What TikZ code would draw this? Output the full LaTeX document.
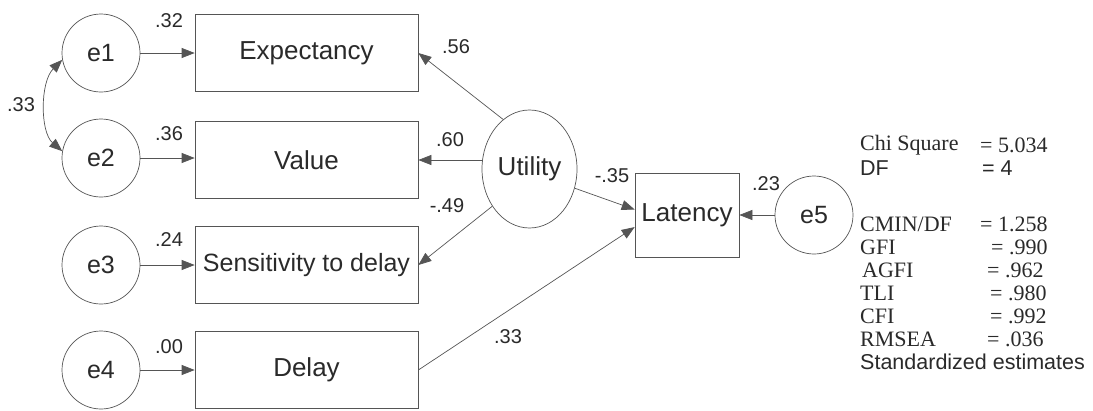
\documentclass[tikz,border=0pt]{standalone}
\usepackage{fontspec}
\setmainfont{Liberation Sans}
\newfontfamily\serifstat{Liberation Serif}
\usetikzlibrary{arrows.meta,shapes.geometric}
\definecolor{ink}{HTML}{2A2A2A}
\definecolor{edge}{HTML}{555555}
\begin{document}
\begin{tikzpicture}[x=1pt,y=-1pt,
  every node/.style={text=ink},
  errc/.style={circle,draw=edge,line width=0.7pt,minimum size=78pt,inner sep=0pt,font=\fontsize{25}{28}\selectfont},
  obsbox/.style={rectangle,draw=edge,line width=0.7pt,minimum width=223pt,minimum height=77pt,inner sep=0pt,font=\fontsize{26}{30}\selectfont},
  latv/.style={ellipse,draw=edge,line width=0.7pt,minimum width=95pt,minimum height=118pt,inner sep=0pt,font=\fontsize{26}{30}\selectfont},
  coef/.style={inner sep=0pt,font=\fontsize{20}{22}\selectfont},
  path/.style={draw=edge,line width=0.7pt,-{Triangle[length=13pt,width=10pt]}},
  dpath/.style={draw=edge,line width=0.7pt,{Triangle[length=13pt,width=10pt]}-{Triangle[length=13pt,width=10pt]}},
  statl/.style={anchor=west,inner sep=0pt,font=\serifstat\fontsize{22}{24}\selectfont},
  stats/.style={anchor=west,inner sep=0pt,font=\fontsize{21.5}{24}\selectfont}]
\useasboundingbox[fill=white] (0,0) rectangle (1093,410);

% error circles
\node[errc] (e1) at (101,53) {e1};
\node[errc] (e2) at (101,158) {e2};
\node[errc] (e3) at (101,265) {e3};
\node[errc] (e4) at (101,370) {e4};
\node[errc] (e5) at (814,215) {e5};

% observed boxes
\node[obsbox] (exp) at (306.5,53) {Expectancy};
\node[obsbox] (val) at (306.5,160) {Value};
\node[obsbox,font=\fontsize{25}{30}\selectfont] (sen) at (306.5,265) {Sensitivity to delay};
\node[obsbox] (del) at (306.5,370) {Delay};
\node[obsbox,minimum width=104pt,minimum height=84pt] (lat) at (687,215) {Latency};

% latent
\node[latv] (u) at (529.5,169) {Utility};

% paths
\draw[path] (e1) -- (exp);
\draw[path] (e2) -- (e2 -| val.west);
\draw[path] (e3) -- (sen);
\draw[path] (e4) -- (del);
\draw[path] (u.118) -- (exp.east);
\draw[path] (val.east -| u.west) -- (val.east);
\draw[path] (u.225) -- (sen.east);
\draw[path] (u.-23) -- (lat.174);
\draw[path] (del.east) -- (lat.193);
\draw[path] (e5) -- (lat);
\draw[dpath] (e1.190) .. controls (40,82) and (40,132) .. (e2.170);

% coefficients
\node[coef] (c32) at (169,21) {.32};
\node[coef] (c36) at (169,134) {.36};
\node[coef] (c24) at (169,240) {.24};
\node[coef] (c00) at (169,347) {.00};
\node[coef] (c33a) at (21,105) {.33};
\node[coef] (c56) at (456,47) {.56};
\node[coef] (c60) at (450,140) {.60};
\node[coef] (c49) at (447,206) {-.49};
\node[coef] (c35) at (612,176) {-.35};
\node[coef] (c33b) at (508,337) {.33};
\node[coef] (c23) at (766,184) {.23};

% fit statistics
\node[statl] (s1) at (860,145) {Chi Square};
\node[statl] (v1) at (980,145) {= 5.034};
\node[stats] (s2) at (860,168) {DF};
\node[stats] (v2) at (982,168) {= 4};
\node[statl] (s3) at (860,224) {CMIN/DF};
\node[statl] (v3) at (980,224) {= 1.258};
\node[statl] (s4) at (860,247) {GFI};
\node[statl] (v4) at (991,247) {= .990};
\node[statl] (s5) at (862,270) {AGFI};
\node[statl] (v5) at (987,270) {= .962};
\node[statl] (s6) at (860,293) {TLI};
\node[statl] (v6) at (990,293) {= .980};
\node[statl] (s7) at (860,316) {CFI};
\node[statl] (v7) at (990,316) {= .992};
\node[statl] (s8) at (860,339) {RMSEA};
\node[statl] (v8) at (987,339) {= .036};
\node[stats] (s9) at (860,362) {Standardized estimates};
\end{tikzpicture}
\end{document}
